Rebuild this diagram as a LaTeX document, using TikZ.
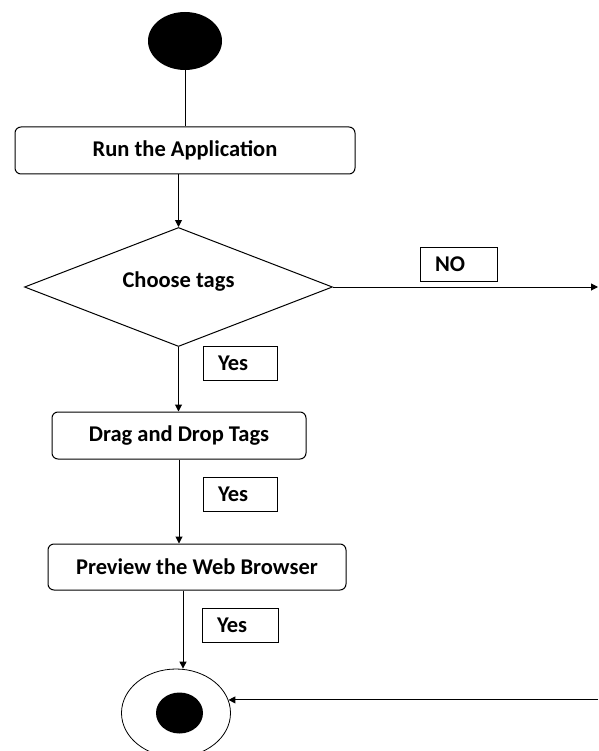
\documentclass[tikz,border=0pt]{standalone}
\usepackage{fontspec}
\setmainfont{Carlito}
\usetikzlibrary{shapes.geometric,arrows.meta}
\begin{document}
\begin{tikzpicture}[x=1pt,y=-1pt,
  txt/.style={font=\bfseries\fontsize{22.5}{26}\selectfont},
  box/.style={draw, rounded corners=6pt, line width=1pt, txt},
  lbl/.style={draw, line width=1pt, minimum height=34pt, inner xsep=15pt, align=left, txt},
  conn/.style={line width=1pt},
  arr/.style={conn, -{Triangle[length=7pt,width=7pt]}}]
\useasboundingbox (0,0) rectangle (598,751);
\clip (0,0) rectangle (598,751);
% nodes
\node[ellipse, fill=black, minimum width=74pt, minimum height=58pt, inner sep=0pt] (start) at (185,41) {};
\node[box, minimum width=340pt, minimum height=47pt] (run) at (185,150.5) {Run the Application};
\node[diamond, draw, line width=1pt, minimum width=308pt, minimum height=119pt, inner sep=0pt, aspect=2.6,
      label={[txt]center:{\raisebox{15pt}{Choose tags}}}] (d) at (178.5,287) {};
\node[box, minimum width=254pt, minimum height=47pt] (drag) at (179,435.5) {Drag and Drop Tags};
\node[box, minimum width=298pt, minimum height=46pt] (prev) at (197,567) {Preview the Web Browser};
\node[ellipse, draw, line width=0.8pt, minimum width=109pt, minimum height=88pt, inner sep=0pt] (end) at (176,713) {};
\node[ellipse, fill=black, minimum width=47pt, minimum height=41pt, inner sep=0pt] (dot) at (179.5,713) {};
% labels
\node[lbl, text width=47pt] (no) at (458.5,264) {NO};
\node[lbl, text width=44pt] (yes1) at (240,363) {Yes};
\node[lbl, text width=44pt] (yes2) at (240,494.5) {Yes};
\node[lbl, text width=46pt] (yes3) at (240,625) {Yes};
% free ends
\coordinate (rr) at (598,0);
\coordinate (noend) at (d.east -| rr);
\coordinate (endin) at (end.14 -| rr);
% connectors
\draw[conn] (start.south) -- (start.south |- run.north);
\draw[arr] (run.south -| d.north) -- (d.north);
\draw[arr] (d.east) -- (noend);
\draw[arr] (d.south) -- (d.south |- drag.north);
\draw[arr] (drag.south) -- (drag.south |- prev.north);
\draw[arr] ([xshift=-14pt]prev.south) -- ([xshift=-14pt]prev.south |- end.north);
\draw[arr] (endin) -- (end.14);
\end{tikzpicture}
\end{document}
